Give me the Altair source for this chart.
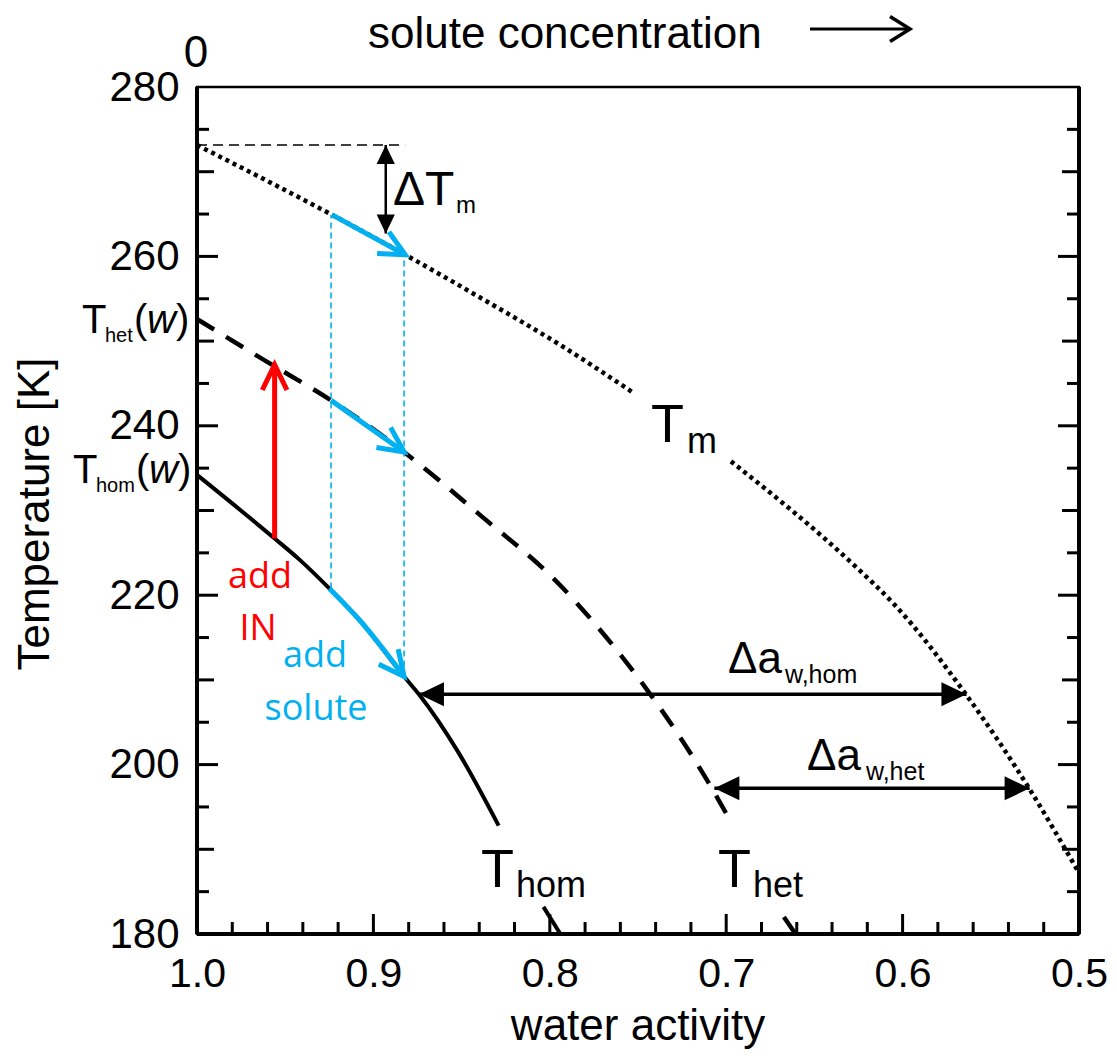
import math
import altair as alt
import pandas as pd

W, H = 882, 847
AW_MIN, AW_MAX = 0.5, 1.0
T_MIN, T_MAX = 180, 280
SX = W / (AW_MAX - AW_MIN)   # px per unit of water activity
SY = H / (T_MAX - T_MIN)     # px per K

BLUE = "#00B0F0"
RED = "#FF0000"
FONT = "Liberation Sans"

# ---- axis values ----
x_labels = [1.0, 0.9, 0.8, 0.7, 0.6, 0.5]
y_labels = [180, 200, 220, 240, 260, 280]
x_major_ticks = [0.9, 0.8, 0.7, 0.6]
x_minor_ticks = [0.98, 0.96, 0.94, 0.92, 0.88, 0.86, 0.84, 0.82, 0.78, 0.76, 0.74, 0.72,
                 0.68, 0.66, 0.64, 0.62, 0.58, 0.56, 0.54, 0.52]
y_major_ticks = [200, 220, 240, 260]
y_mid_ticks = [190, 210, 230, 250, 270]
y_minor_ticks = [185, 195, 205, 215, 225, 235, 245, 255, 265, 275]

# ---- curves ----
tm_aw = [1.0, 0.9234, 0.882, 0.840, 0.793, 0.7534, 0.6973, 0.6268, 0.6051, 0.5638, 0.528, 0.5]
tm_T = [273.15, 264.9, 260.2, 255.2, 249.4, 244.0, 235.8, 223.4, 219.0, 208.2, 197.1, 187.2]
tm_seg = [0, 0, 0, 0, 0, 0, 1, 1, 1, 1, 1, 1]

thet_aw = [1.0, 0.9607, 0.924, 0.8826, 0.8403, 0.7933, 0.7764, 0.743, 0.7124, 0.6964, 0.6673, 0.6607]
thet_T = [252.6, 247.6, 243.0, 236.9, 229.6, 221.0, 217.1, 208.3, 198.7, 192.9, 182.0, 180.0]
thet_seg = [0, 0, 0, 0, 0, 0, 0, 0, 0, 0, 1, 1]

thom_aw = [1.0, 0.956, 0.9419, 0.925, 0.908, 0.8826, 0.8742, 0.852, 0.829, 0.8036, 0.794]
thom_T = [234.2, 226.7, 224.2, 220.8, 217.1, 210.4, 208.3, 201.5, 192.8, 183.2, 180.0]
thom_seg = [0, 0, 0, 0, 0, 0, 0, 0, 0, 1, 1]

# ---- annotations ----
blue_tm_aw, blue_tm_T = [0.9234, 0.882], [264.9, 260.2]
blue_het_aw, blue_het_T = [0.924, 0.8826], [243.0, 236.9]
blue_hom_aw, blue_hom_T = [0.925, 0.908, 0.8826], [220.8, 217.1, 210.4]
vdash_aw = [0.924, 0.8826]
vdash_lo = [220.8, 210.4]
vdash_hi = [264.9, 260.2]
tm0_aw, tm0_T = [1.0, 0.882], 273.15
dtm_aw, dtm_lo, dtm_hi = 0.893, 262.7, 273.15
red_aw, red_lo, red_hi = 0.956, 226.7, 247.2
dhom_T, dhom_lo, dhom_hi = 208.3, 0.8742, 0.5638
dhet_T, dhet_lo, dhet_hi = 197.2, 0.7067, 0.528

xscale = alt.Scale(domain=[AW_MIN, AW_MAX], reverse=True, nice=False, zero=False)
yscale = alt.Scale(domain=[T_MIN, T_MAX], nice=False, zero=False)
x_axis = alt.Axis(values=x_labels, format=".1f", labelFont=FONT, labelFontSize=41,
                  labelColor="black", labelPadding=20, labelFlush=False, labelOverlap=False,
                  ticks=False, tickSize=0, domain=False, grid=False, title=None)
y_axis = alt.Axis(values=y_labels, format="d", labelFont=FONT, labelFontSize=42,
                  labelColor="black", labelPadding=18, labelFlush=False, labelOverlap=False,
                  ticks=False, tickSize=0, domain=False, grid=False, title=None)


def X(f="aw"):
    return alt.X(f"{f}:Q", scale=xscale, axis=x_axis)


def Y(f="T"):
    return alt.Y(f"{f}:Q", scale=yscale, axis=y_axis)


def ang(aw0, t0, aw1, t1):
    dx = (aw0 - aw1) * SX
    dy = (t0 - t1) * SY
    return math.degrees(math.atan2(dy, dx)) % 360


def curve_df(aws, ts, segs):
    return pd.DataFrame({"aw": aws, "T": ts, "seg": segs})


layers = []

# frame sides (thicker than the top)
one = pd.DataFrame({"a": [0]})
layers.append(alt.Chart(one).mark_rule(color="black", strokeWidth=4).encode(
    x=alt.value(0), y=alt.value(0), y2=alt.value(H)))
layers.append(alt.Chart(one).mark_rule(color="black", strokeWidth=4).encode(
    x=alt.value(W), y=alt.value(0), y2=alt.value(H)))
layers.append(alt.Chart(one).mark_rule(color="black", strokeWidth=4).encode(
    x=alt.value(0), x2=alt.value(W), y=alt.value(H)))

# inward ticks
for vals, ln in [(y_major_ticks, 21), (y_mid_ticks, 17), (y_minor_ticks, 12)]:
    d = pd.DataFrame({"T": vals})
    layers.append(alt.Chart(d).mark_rule(color="black", strokeWidth=3).encode(
        y=Y(), x=alt.value(0), x2=alt.value(ln)))
    layers.append(alt.Chart(d).mark_rule(color="black", strokeWidth=3).encode(
        y=Y(), x=alt.value(W - ln), x2=alt.value(W)))
for vals, ln in [(x_major_ticks, 20), (x_minor_ticks, 12)]:
    d = pd.DataFrame({"aw": vals})
    layers.append(alt.Chart(d).mark_rule(color="black", strokeWidth=3).encode(
        x=X(), y=alt.value(H - ln), y2=alt.value(H)))

# curves
layers.append(alt.Chart(curve_df(tm_aw, tm_T, tm_seg)).mark_line(
    color="black", strokeWidth=4.5, strokeDash=[4, 4], interpolate="monotone").encode(
    x=X(), y=Y(), detail="seg:N", order=alt.Order("aw:Q", sort="descending")))
layers.append(alt.Chart(curve_df(thet_aw, thet_T, thet_seg)).mark_line(
    color="black", strokeWidth=4.5, strokeDash=[20, 14], interpolate="monotone").encode(
    x=X(), y=Y(), detail="seg:N", order=alt.Order("aw:Q", sort="descending")))
layers.append(alt.Chart(curve_df(thom_aw, thom_T, thom_seg)).mark_line(
    color="black", strokeWidth=4, interpolate="monotone").encode(
    x=X(), y=Y(), detail="seg:N", order=alt.Order("aw:Q", sort="descending")))

# dashed guides
layers.append(alt.Chart(pd.DataFrame({"aw": vdash_aw, "T": vdash_lo, "T2": vdash_hi})).mark_rule(
    color=BLUE, strokeWidth=1.6, strokeDash=[6, 4]).encode(x=X(), y=Y(), y2=alt.Y2("T2:Q")))
layers.append(alt.Chart(pd.DataFrame({"aw": [tm0_aw[0]], "aw2": [tm0_aw[1]], "T": [tm0_T]})).mark_rule(
    color="black", strokeWidth=1.5, strokeDash=[10, 6]).encode(x=X(), x2=alt.X2("aw2:Q"), y=Y()))

# blue arrows (shaft + open head)
V_PATH = "M-0.9,-0.44L0,0L-0.9,0.44"
heads = []
for k, (aws, ts) in enumerate([(blue_tm_aw, blue_tm_T), (blue_het_aw, blue_het_T),
                               (blue_hom_aw, blue_hom_T)]):
    layers.append(alt.Chart(pd.DataFrame({"aw": aws, "T": ts, "k": [k] * len(aws)})).mark_line(
        color=BLUE, strokeWidth=5, interpolate="monotone").encode(
        x=X(), y=Y(), detail="k:N", order=alt.Order("aw:Q", sort="descending")))
    heads.append({"aw": aws[-1], "T": ts[-1], "ang": ang(aws[-2], ts[-2], aws[-1], ts[-1])})
layers.append(alt.Chart(pd.DataFrame(heads)).mark_point(
    shape=V_PATH, size=3136, filled=False, stroke=BLUE, strokeWidth=5, opacity=1).encode(
    x=X(), y=Y(), angle=alt.Angle("ang:Q", scale=None)))

# red arrow
layers.append(alt.Chart(pd.DataFrame({"aw": [red_aw], "T": [red_lo], "T2": [red_hi]})).mark_rule(
    color=RED, strokeWidth=5).encode(x=X(), y=Y(), y2=alt.Y2("T2:Q")))
layers.append(alt.Chart(pd.DataFrame({"aw": [red_aw], "T": [red_hi],
                                      "ang": [ang(red_aw, red_lo, red_aw, red_hi)]})).mark_point(
    shape=V_PATH, size=3136, filled=False, stroke=RED, strokeWidth=5, opacity=1).encode(
    x=X(), y=Y(), angle=alt.Angle("ang:Q", scale=None)))

# black double arrows
TRI = "M0,0L-1,-0.48L-1,0.48Z"
layers.append(alt.Chart(pd.DataFrame({"aw": [dtm_aw], "T": [dtm_lo], "T2": [dtm_hi]})).mark_rule(
    color="black", strokeWidth=2.5).encode(x=X(), y=Y(), y2=alt.Y2("T2:Q")))
layers.append(alt.Chart(pd.DataFrame({
    "aw": [dtm_aw, dtm_aw], "T": [dtm_hi, dtm_lo],
    "ang": [ang(dtm_aw, dtm_lo, dtm_aw, dtm_hi), ang(dtm_aw, dtm_hi, dtm_aw, dtm_lo)]})).mark_point(
    shape=TRI, size=1444, filled=True, color="black", opacity=1).encode(
    x=X(), y=Y(), angle=alt.Angle("ang:Q", scale=None)))

layers.append(alt.Chart(pd.DataFrame({"aw": [dhom_lo, dhet_lo], "aw2": [dhom_hi, dhet_hi],
                                      "T": [dhom_T, dhet_T]})).mark_rule(
    color="black", strokeWidth=3.5).encode(x=X(), x2=alt.X2("aw2:Q"), y=Y()))
layers.append(alt.Chart(pd.DataFrame({
    "aw": [dhom_lo, dhom_hi, dhet_lo, dhet_hi],
    "T": [dhom_T, dhom_T, dhet_T, dhet_T],
    "ang": [ang(dhom_hi, dhom_T, dhom_lo, dhom_T), ang(dhom_lo, dhom_T, dhom_hi, dhom_T),
            ang(dhet_hi, dhet_T, dhet_lo, dhet_T), ang(dhet_lo, dhet_T, dhet_hi, dhet_T)]})).mark_point(
    shape=TRI, size=2500, filled=True, color="black", opacity=1).encode(
    x=X(), y=Y(), angle=alt.Angle("ang:Q", scale=None)))

# top arrow next to "solute concentration"
layers.append(alt.Chart(one).mark_rule(color="black", strokeWidth=3).encode(
    x=alt.value(613), x2=alt.value(712), y=alt.value(-58)))
layers.append(alt.Chart(one).mark_point(
    shape="M-0.85,-0.53L0,0L-0.85,0.53", size=2209, filled=False, stroke="black",
    strokeWidth=3.5, opacity=1).encode(x=alt.value(713), y=alt.value(-58)))


def txt(s, x, y, size, font=FONT, align="left", color="black", angle=None, style="normal"):
    kw = dict(align=align, baseline="alphabetic", font=font, fontSize=size, color=color,
              fontStyle=style)
    if angle is not None:
        kw["angle"] = angle
    return alt.Chart(pd.DataFrame({"s": [s]})).mark_text(**kw).encode(
        text="s:N", x=alt.value(x), y=alt.value(y))


layers += [
    txt("0", -1, -20, 44, align="center"),
    txt("solute concentration", 171, -39, 44),
    txt("Temperature [K]", -148, 427, 44, align="center", angle=270),
    txt("water activity", 441, 953, 44, align="center"),
    # left labels
    txt("T", -115, 246, 40), txt("het", -92, 255, 20),
    txt("(", -63, 246, 40), txt("w", -50, 246, 40, style="italic"), txt(")", -21, 246, 40),
    txt("T", -124, 396, 40), txt("hom", -101, 405, 20),
    txt("(", -61, 396, 40), txt("w", -48, 396, 40, style="italic"), txt(")", -19, 396, 40),
    # curve labels
    txt("T", 454, 355, 54), txt("m", 490, 366, 36),
    txt("T", 284, 800, 54), txt("hom", 319, 810, 36),
    txt("T", 521, 800, 54), txt("het", 556, 810, 36),
    txt("\u0394T", 196, 118, 48), txt("m", 259, 126, 24),
    txt("\u0394a", 531, 586, 44), txt("w,hom", 588, 596, 25),
    txt("\u0394a", 610, 683, 44), txt("w,het", 669, 693, 25),
    # coloured annotations
    txt("add", 63, 501, 36, font="Open Sans", align="center", color=RED),
    txt("IN", 61, 553, 36, font="Open Sans", align="center", color=RED),
    txt("add", 118, 580, 36, font="Open Sans", align="center", color=BLUE),
    txt("solute", 119, 633, 36, font="Open Sans", align="center", color=BLUE),
]

chart = alt.layer(*layers).properties(
    width=W, height=H,
    padding={"left": 189, "top": 79, "right": 29, "bottom": 115},
    autosize=alt.AutoSizeParams(type="none"),
    background="white",
).configure_view(stroke="black", strokeWidth=2.5)

chart.save("out.html", embed_options={"renderer": "svg", "actions": False})
